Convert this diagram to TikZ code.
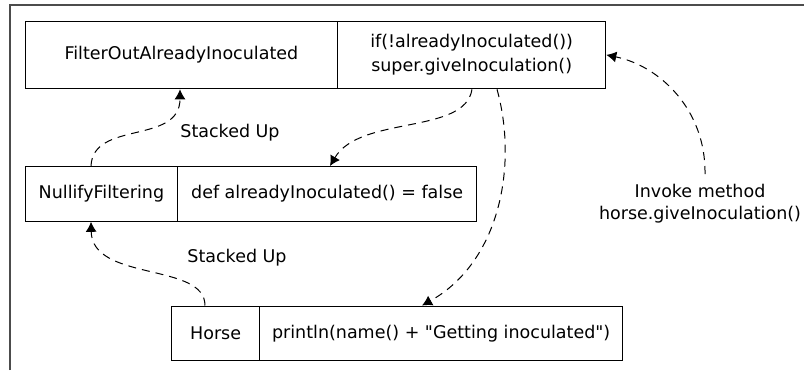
\documentclass[tikz,border=0pt]{standalone}
\usepackage{fontspec}
\setmainfont{DejaVu Sans}[Ligatures=TeXOff]
\usetikzlibrary{arrows.meta}
\begin{document}
\begin{tikzpicture}[x=1pt,y=-1pt,line width=1pt,
  cell/.style={draw,line width=1.3pt,inner sep=0pt,anchor=north west,align=center,
    font=\fontsize{17.5}{24}\selectfont},
  call/.style={dashed,dash pattern=on 8pt off 6pt,-{Latex[length=10pt,width=11pt]}},
  lbl/.style={align=center,font=\fontsize{17.5}{22}\selectfont}]
\useasboundingbox (0,0) rectangle (804,370);
% frame
\draw[line width=2pt,black!70] (9.5,370) -- (9.5,5) -- (804,5);
% classes
\node[cell,minimum width=312.5pt,minimum height=67.5pt] (filter) at (24.5,20.5) {FilterOutAlreadyInoculated};
\node[cell,minimum width=268pt,minimum height=67.5pt] (filterbody) at (337,20.5) {if(!alreadyInoculated())\\super.giveInoculation()};
\node[cell,minimum width=152.5pt,minimum height=54.5pt] (nullify) at (24.5,166) {NullifyFiltering};
\node[cell,minimum width=299pt,minimum height=54.5pt] (nullifybody) at (177,166) {def alreadyInoculated() = false};
\node[cell,minimum width=88pt,minimum height=54.5pt] (horse) at (171,305.5) {Horse};
\node[cell,minimum width=363pt,minimum height=54.5pt] (horsebody) at (259,305.5) {println(name() + "Getting inoculated")};
% labels
\node[lbl] (stack1) at (230,133) {Stacked Up};
\node[lbl] (stack2) at (237,258) {Stacked Up};
\node[lbl] (invoke) at (700,204) {Invoke method\\horse.giveInoculation()};
\coordinate (start) at (705,174);
% calls
\draw[call] ([xshift=66.5pt]nullify.north west) .. controls (93,120) and (180,145) .. ([xshift=155.5pt]filter.south west);
\draw[call] ([xshift=34pt]horse.north west) .. controls (205,262) and (92,282) .. ([xshift=66.5pt]nullify.south west);
\draw[call] ([xshift=135pt]filterbody.south west) .. controls (465,135) and (360,115) .. ([xshift=153pt]nullifybody.north west);
\draw[call] ([xshift=160pt]filterbody.south west) .. controls (518,165) and (500,262) .. ([xshift=163pt]horsebody.north west);
\draw[call] (start) .. controls (706,110) and (660,66) .. (filterbody.east);
\end{tikzpicture}
\end{document}
